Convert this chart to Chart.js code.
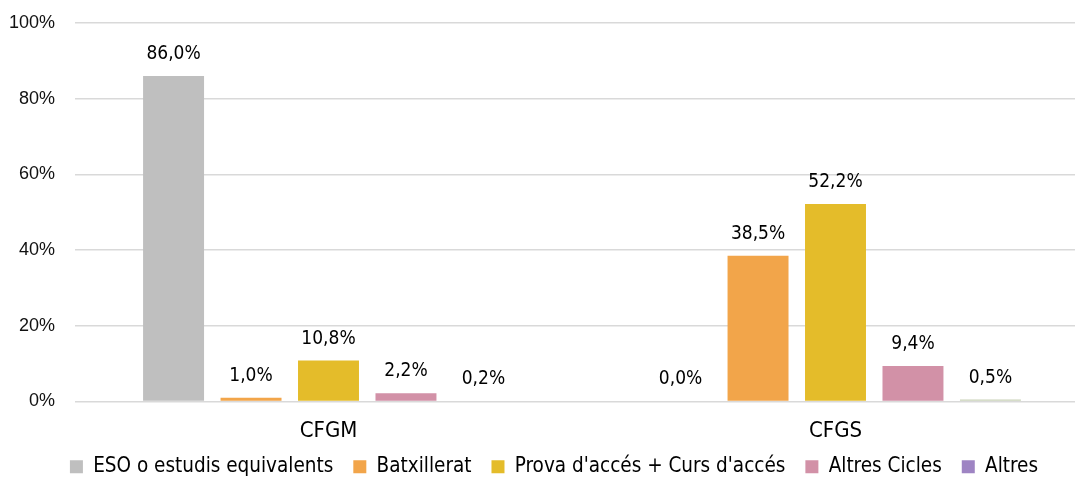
<!DOCTYPE html>
<html>
<head>
<meta charset="utf-8">
<script src="https://cdn.jsdelivr.net/npm/chart.js@4/dist/chart.umd.min.js"></script>
<style>
  html, body { margin: 0; padding: 0; background: #fff; overflow: hidden; }
  #outer { position: relative; width: 1075px; height: 477px; overflow: hidden; }
  #wrap { position: absolute; left: 0; top: 0; width: 1089px; height: 487px; }
</style>
</head>
<body>
<div id="outer"><div id="wrap"><canvas id="c"></canvas></div></div>
<script>
const categories = ['CFGM', 'CFGS'];
const seriesNames = ['ESO o estudis equivalents', 'Batxillerat', "Prova d'accés + Curs d'accés", 'Altres Cicles', 'Altres'];
const esoValues = [86.0, 0.0];
const batxValues = [1.0, 38.5];
const provaValues = [10.8, 52.2];
const ciclesValues = [2.2, 9.4];
const altresValues = [0.2, 0.5];
const yTicks = [0, 20, 40, 60, 80, 100];

const colors = ['#bfbfbf', '#f2a54a', '#e4bc2a', '#d291a7', ['#9e84c3', '#c9d2b7']];
const allValues = [esoValues, batxValues, provaValues, ciclesValues, altresValues];

const labelFont = '"DejaVu Sans Condensed", "DejaVu Sans", sans-serif';

const dataLabels = {
  id: 'dataLabels',
  afterDatasetsDraw(chart) {
    const ctx = chart.ctx;
    ctx.save();
    ctx.font = '19px ' + labelFont;
    ctx.fillStyle = '#000';
    ctx.textAlign = 'center';
    ctx.textBaseline = 'middle';
    chart.data.datasets.forEach((ds, i) => {
      const meta = chart.getDatasetMeta(i);
      meta.data.forEach((bar, j) => {
        const v = ds.data[j];
        const txt = v.toFixed(1).replace('.', ',') + '%';
        ctx.fillText(txt, bar.x, bar.y - 22);
      });
    });
    ctx.restore();
  }
};

new Chart(document.getElementById('c'), {
  type: 'bar',
  data: {
    labels: categories,
    datasets: seriesNames.map((n, i) => ({
      label: n,
      data: allValues[i],
      backgroundColor: colors[i],
      borderWidth: 0,
      categoryPercentage: 0.764,
      barPercentage: 0.787
    }))
  },
  options: {
    responsive: true,
    maintainAspectRatio: false,
    animation: false,
    layout: { padding: { top: 23, right: 0, left: 19, bottom: 0 } },
    plugins: {
      legend: {
        position: 'bottom',
        labels: {
          font: { size: 20.5, family: labelFont },
          color: '#000',
          boxWidth: 13,
          boxHeight: 13,
          padding: 20
        }
      },
      tooltip: { enabled: false }
    },
    scales: {
      x: {
        grid: { display: false, drawTicks: false },
        border: { display: false },
        ticks: { font: { size: 22, family: labelFont }, color: '#000', padding: 17 },
        afterFit(scale) {
          scale.height = 35;
          scale._computeLabelArea = () => undefined;
        }
      },
      y: {
        min: 0,
        max: 100,
        afterBuildTicks(axis) { axis.ticks = yTicks.map(v => ({ value: v })); },
        afterFit(scale) {
          scale.width = 56;
          scale.paddingTop = 0;
          scale.paddingBottom = 0;
          scale._computeLabelArea = () => undefined;
        },
        grid: { color: '#d9d9d9', lineWidth: 1.5, drawTicks: false },
        border: { display: false },
        ticks: {
          font: { size: 18, family: '"Liberation Sans", Arial, sans-serif' },
          color: '#111',
          padding: 20,
          callback: v => v + '%'
        }
      }
    }
  },
  plugins: [dataLabels]
});
</script>
</body>
</html>
